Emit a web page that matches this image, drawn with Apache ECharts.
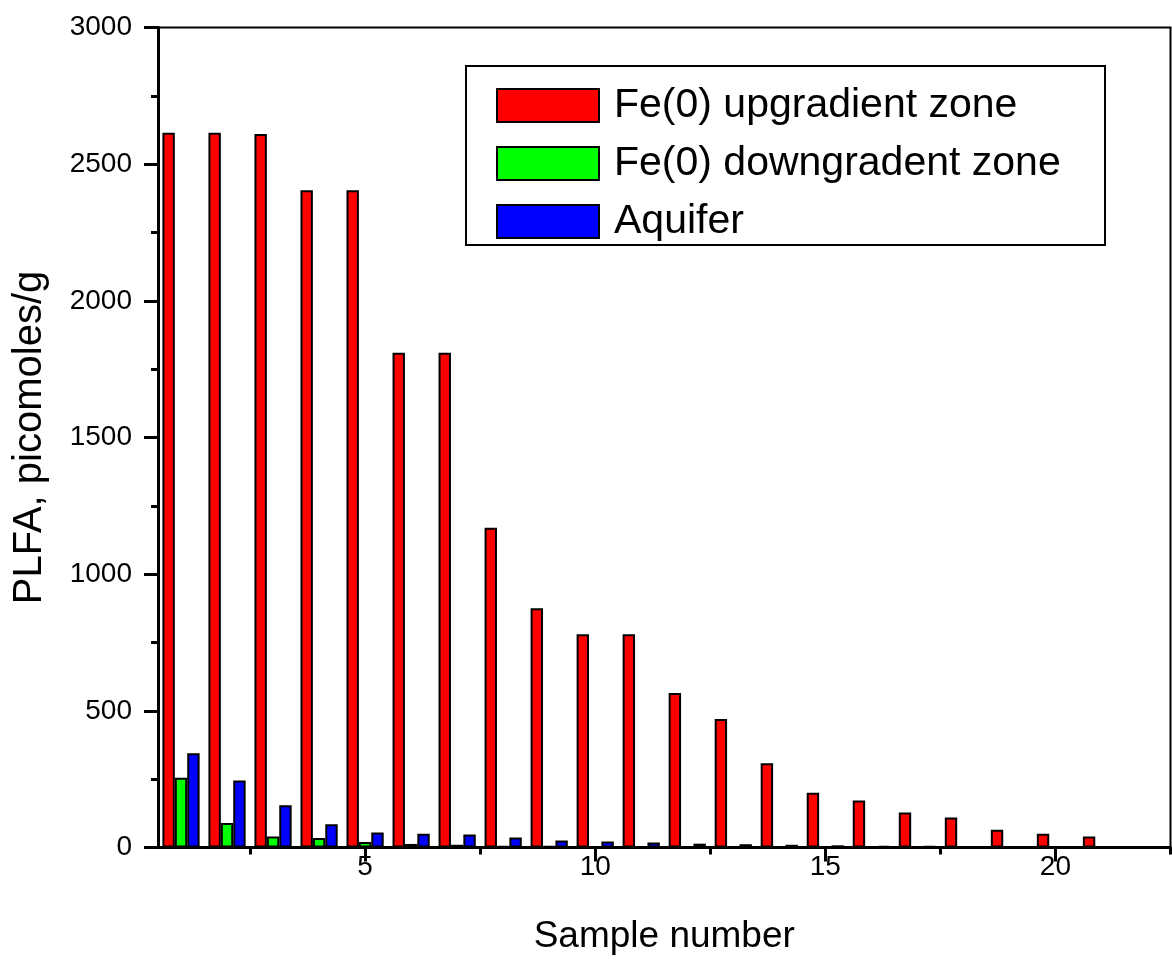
<!DOCTYPE html>
<html>
<head>
<meta charset="utf-8">
<script src="https://cdn.jsdelivr.net/npm/echarts@6/dist/echarts.min.js"></script>
<style>
  html, body { margin: 0; padding: 0; background: #ffffff; }
  #chart { width: 1172px; height: 973px; }
</style>
</head>
<body>
<div id="chart"></div>
<script>
// PLFA biomass per sample, picomoles/g
const samples = [1, 2, 3, 4, 5, 6, 7, 8, 9, 10, 11, 12, 13, 14, 15, 16, 17, 18, 19, 20, 21, 22];
const upgradientZone = [2615, 2615, 2610, 2405, 2405, 1810, 1810, 1170, 875, 780, 780, 565, 470, 308, 200, 172, 128, 110, 65, 50, 40, 0];
const downgradientZone = [255, 90, 40, 35, 20, 13, 10, 6, 5, 4, 3, 3, 3, 3, 2, 2, 2, 1, 1, 1, 1, 1];
const aquifer = [345, 245, 155, 85, 55, 50, 48, 37, 26, 22, 18, 14, 12, 10, 8, 6, 5, 3, 3, 3, 3, 3];

const seriesNames = ['Fe(0) upgradient zone', 'Fe(0) downgradent zone', 'Aquifer'];
const seriesColors = ['#ff0000', '#00ff00', '#0000ff'];

const xMajorTicks = [5, 10, 15, 20];
const xMinorTicks = [2.5, 7.5, 12.5, 17.5, 22.5];

const FONT = '"Liberation Sans", Arial, sans-serif';

const chart = echarts.init(document.getElementById('chart'), null, { renderer: 'canvas' });

function pairs(values) {
  return samples.map((s, i) => [s, values[i]]);
}

const barSeries = [upgradientZone, downgradientZone, aquifer].map((values, k) => ({
  name: seriesNames[k],
  type: 'bar',
  xAxisIndex: 0,
  yAxisIndex: 0,
  barGap: '0%',
  barWidth: 12.4,
  data: pairs(values),
  itemStyle: { color: seriesColors[k], borderColor: '#000000', borderWidth: 2 },
  emphasis: { disabled: true },
  animation: false
}));

const plainNumber = (v) => String(v);

chart.setOption({
  backgroundColor: '#ffffff',
  animation: false,
  grid: {
    left: 158, right: 1.5, top: 27.5, bottom: 125.5,
    show: true, borderColor: '#000000', borderWidth: 2, backgroundColor: 'transparent'
  },
  legend: {
    orient: 'vertical',
    left: 496, top: 85,
    padding: 0,
    itemWidth: 102, itemHeight: 33, itemGap: 17,
    selectedMode: false,
    icon: 'rect',
    textStyle: { fontFamily: FONT, fontSize: 41, lineHeight: 33, color: '#000000', padding: [0, 0, 0, 10] },
    data: seriesNames.map((n) => ({ name: n, itemStyle: { borderColor: '#000000', borderWidth: 2 } }))
  },
  graphic: [{
    type: 'rect',
    shape: { x: 466, y: 66, width: 639, height: 179 },
    style: { fill: 'none', stroke: '#000000', lineWidth: 2 },
    silent: true,
    z: 100
  }],
  xAxis: [{
    type: 'value',
    min: 0.5, max: 22.5,
    position: 'bottom',
    name: 'Sample number',
    nameLocation: 'middle',
    nameGap: 71,
    nameTextStyle: { fontFamily: FONT, fontSize: 37, color: '#000000' },
    axisLine: { show: true, onZero: false, lineStyle: { color: '#000000', width: 3 } },
    axisTick: { show: true, length: 14, customValues: xMajorTicks, lineStyle: { color: '#000000', width: 3 } },
    axisLabel: { show: true, customValues: xMajorTicks, formatter: plainNumber, margin: 6, fontFamily: FONT, fontSize: 28, color: '#000000' },
    splitLine: { show: false }
  }, {
    type: 'value',
    min: 0.5, max: 22.5,
    position: 'bottom',
    axisLine: { show: false },
    axisTick: { show: true, length: 7, customValues: xMinorTicks, lineStyle: { color: '#000000', width: 3 } },
    axisLabel: { show: false },
    splitLine: { show: false }
  }],
  yAxis: [{
    type: 'value',
    min: 0, max: 3000, interval: 500,
    name: 'PLFA, picomoles/g',
    nameLocation: 'middle',
    nameGap: 108,
    nameTextStyle: { fontFamily: FONT, fontSize: 40, color: '#000000' },
    axisLine: { show: true, onZero: false, lineStyle: { color: '#000000', width: 3 } },
    axisTick: { show: true, length: 14, lineStyle: { color: '#000000', width: 3 } },
    minorTick: { show: true, splitNumber: 2, length: 7, lineStyle: { color: '#000000', width: 3 } },
    axisLabel: { margin: 26, formatter: plainNumber, fontFamily: FONT, fontSize: 28, color: '#000000' },
    splitLine: { show: false },
    minorSplitLine: { show: false }
  }],
  series: barSeries
});
</script>
</body>
</html>
